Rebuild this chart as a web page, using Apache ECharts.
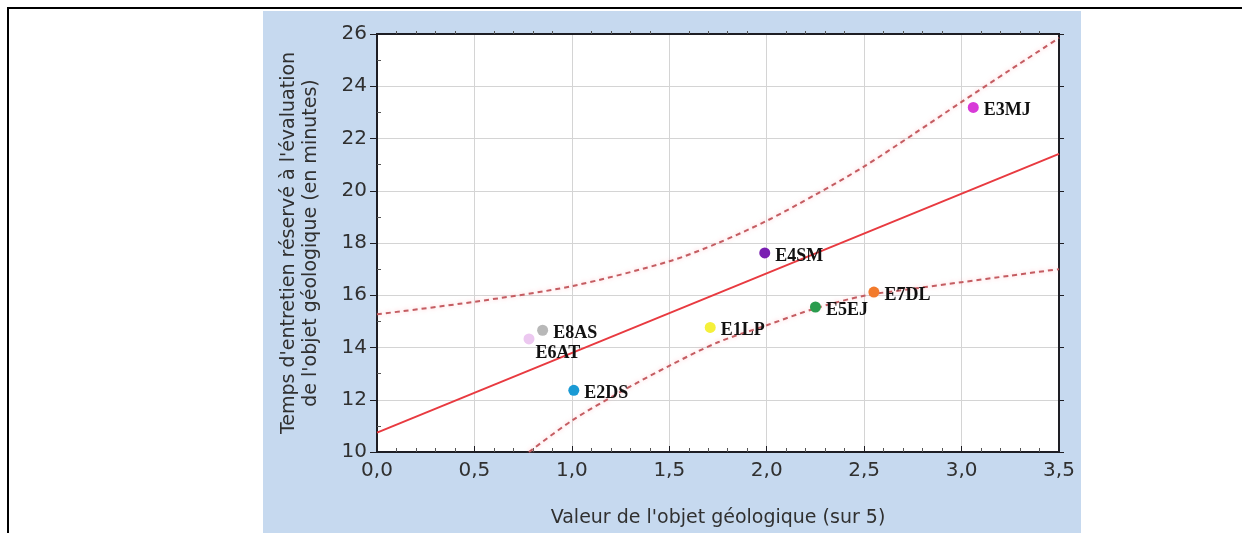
<!DOCTYPE html>
<html>
<head>
<meta charset="utf-8">
<script src="https://cdn.jsdelivr.net/npm/echarts@6/dist/echarts.min.js"></script>
<style>
html,body{margin:0;padding:0;background:#fff;}
#chart{width:1242px;height:533px;}
</style>
</head>
<body>
<div id="chart"></div>
<script>
// ---- data ----
const pointNames = ['E1LP','E2DS','E3MJ','E4SM','E5EJ','E6AT','E7DL','E8AS'];
const pointX     = [1.71, 1.01, 3.06, 1.99, 2.25, 0.78, 2.55, 0.85];
const pointY     = [14.77, 12.36, 23.19, 17.62, 15.55, 14.33, 16.12, 14.66];
const pointColors = ['#f5f03a','#1a9ad4','#d83ad8','#7a20b2','#2a9c4e','#ecc8f0','#f27a2c','#b8b8b8'];

const fitX = [0, 3.5];
const fitY = [10.74, 21.41];

const upperX = [0, 0.5, 1.0, 1.5, 1.75, 2.0, 2.25, 2.5, 2.75, 3.0, 3.25, 3.5];
const upperY = [15.27, 15.75, 16.35, 17.3, 18.0, 18.85, 19.85, 20.93, 22.15, 23.4, 24.63, 25.85];

const lowerX = [0.78, 1.0, 1.25, 1.5, 1.75, 2.0, 2.25, 2.5, 2.75, 3.0, 3.25, 3.5];
const lowerY = [10.0, 11.2, 12.3, 13.3, 14.2, 14.85, 15.5, 15.98, 16.25, 16.5, 16.75, 17.0];

const xTicks = {min: 0, max: 3.5, interval: 0.5};
const yTicks = {min: 10, max: 26, interval: 2};

const xTitle = "Valeur de l'objet géologique (sur 5)";
const yTitle = "Temps d'entretien réservé à l'évaluation\nde l'objet géologique (en minutes)";

// ---- build ----
const zip = (a, b) => a.map((v, i) => [v, b[i]]);
const fmtX = v => v.toFixed(1).replace('.', ',');
const axisTextColor = '#303030';
const frameColor = '#1e1e24';

const scatterData = pointNames.map((n, i) => {
  const item = {name: n, value: [pointX[i], pointY[i]], itemStyle: {color: pointColors[i], opacity: 1}};
  if (n === 'E6AT') item.label = {offset: [-4, 14]};
  return item;
});

const bandStyle = {color: '#c45d62', width: 2, type: [5, 4], shadowColor: 'rgba(255,150,160,0.6)', shadowBlur: 4};

const chart = echarts.init(document.getElementById('chart'), null, {renderer: 'canvas'});
chart.setOption({
  animation: false,
  backgroundColor: '#ffffff',
  graphic: [
    {type: 'rect', z: -10, shape: {x: 263, y: 11, width: 818, height: 530}, style: {fill: '#c6d9ef'}},
    {type: 'rect', z: -10, shape: {x: 7, y: 7, width: 1240, height: 2}, style: {fill: '#000'}},
    {type: 'rect', z: -10, shape: {x: 7, y: 7, width: 2, height: 530}, style: {fill: '#000'}}
  ],
  grid: {left: 377, top: 34, right: 183, bottom: 81, show: true, backgroundColor: '#ffffff', borderColor: frameColor, borderWidth: 2},
  xAxis: [
    {
      type: 'value', position: 'bottom', min: xTicks.min, max: xTicks.max, interval: xTicks.interval,
      name: xTitle, nameLocation: 'middle', nameGap: 57,
      nameTextStyle: {fontFamily: 'DejaVu Sans', fontSize: 19, color: axisTextColor},
      axisLine: {show: true, onZero: false, lineStyle: {color: frameColor, width: 2}},
      axisTick: {show: true, inside: true, length: 6, lineStyle: {color: frameColor}},
      minorTick: {show: true, splitNumber: 5, length: 4, lineStyle: {color: '#555'}},
      axisLabel: {formatter: fmtX, fontFamily: 'DejaVu Sans', fontSize: 20, color: axisTextColor, margin: 9},
      splitLine: {show: true, lineStyle: {color: '#d4d4d4', width: 1}}
    },
    {
      type: 'value', position: 'top', min: xTicks.min, max: xTicks.max, interval: xTicks.interval,
      axisLine: {show: true, onZero: false, lineStyle: {color: frameColor, width: 2}},
      axisTick: {show: false},
      minorTick: {show: true, splitNumber: 5, length: 3, lineStyle: {color: '#555'}},
      axisLabel: {show: false}, splitLine: {show: false}
    }
  ],
  yAxis: [
    {
      type: 'value', position: 'left', min: yTicks.min, max: yTicks.max, interval: yTicks.interval,
      name: yTitle, nameLocation: 'middle', nameGap: 55, nameRotate: 90,
      nameTextStyle: {fontFamily: 'DejaVu Sans', fontSize: 19, color: axisTextColor, lineHeight: 22, align: 'center'},
      axisLine: {show: true, onZero: false, lineStyle: {color: frameColor, width: 2}},
      axisTick: {show: true, inside: false, length: 7, lineStyle: {color: frameColor}},
      axisLabel: {fontFamily: 'DejaVu Sans', fontSize: 20, color: axisTextColor, margin: 10},
      splitLine: {show: true, lineStyle: {color: '#d4d4d4', width: 1}}
    },
    {
      type: 'value', position: 'right', min: yTicks.min, max: yTicks.max, interval: yTicks.interval,
      axisLine: {show: true, onZero: false, lineStyle: {color: frameColor, width: 2}},
      axisTick: {show: true, inside: false, length: 5, lineStyle: {color: frameColor}},
      axisLabel: {show: false}, splitLine: {show: false}
    },
    {
      type: 'value', position: 'left', min: yTicks.min, max: yTicks.max, interval: yTicks.interval,
      axisLine: {show: false}, axisTick: {show: false, inside: true},
      minorTick: {show: true, splitNumber: 2, length: 4, lineStyle: {color: '#555'}},
      axisLabel: {show: false}, splitLine: {show: false}
    }
  ],
  series: [
    {
      type: 'line', xAxisIndex: 0, yAxisIndex: 0, data: zip(fitX, fitY),
      symbol: 'none', lineStyle: {color: '#e83a40', width: 2}, z: 3
    },
    {
      type: 'line', xAxisIndex: 0, yAxisIndex: 0, data: zip(upperX, upperY), smooth: 0.3,
      symbol: 'none', lineStyle: bandStyle, z: 3
    },
    {
      type: 'line', xAxisIndex: 0, yAxisIndex: 0, data: zip(lowerX, lowerY), smooth: 0.3,
      symbol: 'none', lineStyle: bandStyle, z: 3
    },
    {
      type: 'scatter', xAxisIndex: 0, yAxisIndex: 0, data: scatterData, symbolSize: 11, z: 5,
      itemStyle: {opacity: 1},
      label: {
        show: true, position: 'right', distance: 5, offset: [0, 3], opacity: 1,
        formatter: p => p.name,
        fontFamily: 'Liberation Serif', fontWeight: 'bold', fontSize: 18, color: '#111111'
      }
    }
  ]
});
</script>
</body>
</html>
